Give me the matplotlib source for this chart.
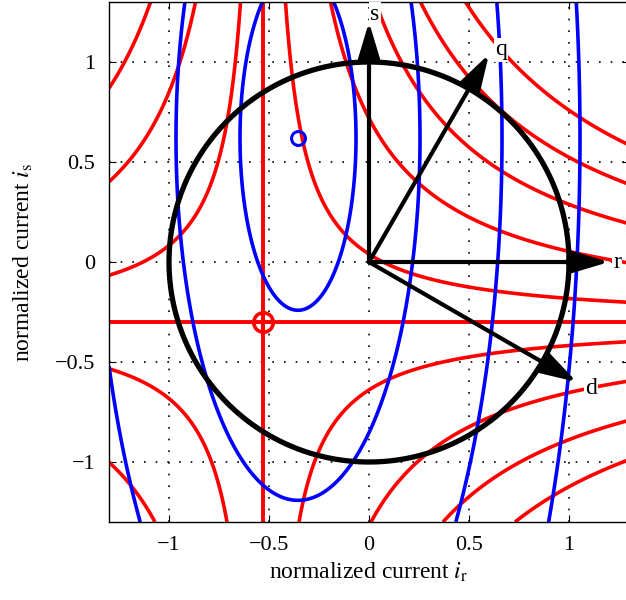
import numpy as np
import matplotlib
matplotlib.use('Agg')
import matplotlib.pyplot as plt

plt.rcParams['font.family'] = ['Liberation Serif', 'DejaVu Serif']
plt.rcParams['mathtext.fontset'] = 'stix'

# red family: (x - xc) * (y - yc) = level, plus its two asymptotes
red_center = (-0.53, -0.30)
red_levels = [-1.26, -0.90, -0.54, -0.18, 0.18, 0.54, 0.90, 1.26, 1.62]

# blue family: ellipses around the blue marker, semi-axis in x, height/width ratio
blue_center = (-0.355, 0.62)
blue_ratio = 2.97
blue_semi_axes = [0.29, 0.61, 1.02, 1.41]

# frame arrows (name, angle in degrees)
arrow_names = ['r', 'q', 's', 'd']
arrow_angles = [0, 60, 90, -30]
arrow_len = 1.2
label_pos = {'r': (1.24, 0.0), 'q': (0.66, 1.06), 's': (0.03, 1.24), 'd': (1.11, -0.63)}

lim = 1.3
ticks = [-1, -0.5, 0, 0.5, 1]
tick_labels = ['\u22121', '\u22120.5', '0', '0.5', '1']

fig = plt.figure(figsize=(6.26, 6.0), dpi=100)
ax = fig.add_axes([109 / 626, 78 / 600, 520 / 626, 520 / 600])

x = np.linspace(-lim, lim, 800)
X, Y = np.meshgrid(x, x)

# red curves
T = (X - red_center[0]) * (Y - red_center[1])
ax.contour(X, Y, T, levels=red_levels, colors='#ff0000', linewidths=2.6,
           linestyles='solid')
ax.axvline(red_center[0], color='#ff0000', lw=2.8)
ax.axhline(red_center[1], color='#ff0000', lw=2.8)

# blue curves
E = (X - blue_center[0]) ** 2 + ((Y - blue_center[1]) / blue_ratio) ** 2
ax.contour(X, Y, E, levels=[a ** 2 for a in blue_semi_axes], colors='#0000ff',
           linewidths=2.6, linestyles='solid')

# markers
ax.plot(blue_center[0], blue_center[1], 'o', ms=10, mfc='none', mec='#0000ff', mew=2.2)
ax.plot(red_center[0], red_center[1], 'o', ms=14, mfc='none', mec='#ff0000', mew=2.6)
ax.plot(red_center[0], red_center[1], '+', ms=13, mec='#ff0000', mew=2.6)

# unit circle
t = np.linspace(0, 2 * np.pi, 400)
ax.plot(np.cos(t), np.sin(t), color='k', lw=3.8)

# arrows and their letters
for name, ang in zip(arrow_names, arrow_angles):
    tip = (arrow_len * np.cos(np.radians(ang)), arrow_len * np.sin(np.radians(ang)))
    ax.annotate('', xy=tip, xytext=(0, 0),
                arrowprops=dict(arrowstyle='-|>,head_length=1.0,head_width=0.3',
                                lw=3, color='k', shrinkA=0, shrinkB=0, mutation_scale=22))
    lx, ly = label_pos[name]
    ax.text(lx, ly, name, fontsize=17, ha='center', va='center',
            bbox=dict(facecolor='white', edgecolor='none', pad=1))

ax.set_xlim(-lim, lim)
ax.set_ylim(-lim, lim)
ax.set_xticks(ticks)
ax.set_xticklabels(tick_labels)
ax.set_yticks(ticks)
ax.set_yticklabels(tick_labels)
ax.tick_params(direction='in', top=True, right=True, labelsize=16, length=5, pad=10)
ax.grid(True, color='k', linestyle=(0, (1, 6)), linewidth=1.2)
for sp in ax.spines.values():
    sp.set_linewidth(1.0)

ax.set_xlabel(r'normalized current $\mathit{i}_{\mathrm{r}}$', fontsize=17, labelpad=4)
ax.set_ylabel(r'normalized current $\mathit{i}_{\mathrm{s}}$', fontsize=17, labelpad=14)

fig.savefig('out.png', dpi=100)
